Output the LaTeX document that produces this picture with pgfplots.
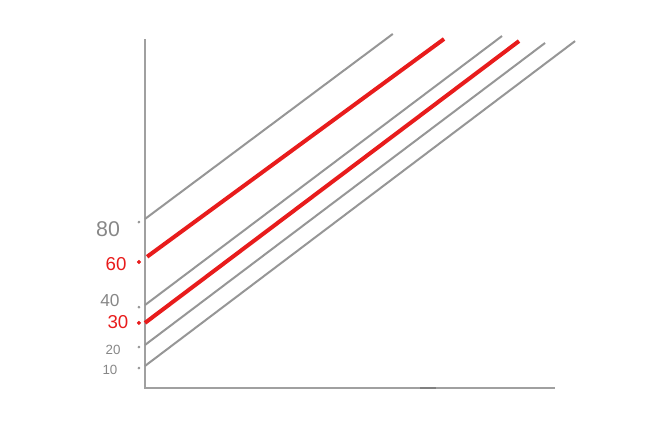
\documentclass[border=0pt]{standalone}
\usepackage{pgfplots}
\pgfplotsset{compat=1.18}
\usepackage{fontspec}
\setmainfont{Liberation Sans}
\definecolor{sketchgray}{RGB}{150,150,150}
\definecolor{axisgray}{RGB}{160,160,160}
\definecolor{labelgray}{RGB}{135,135,135}
\definecolor{sketchred}{RGB}{232,28,28}
\begin{document}
\begin{tikzpicture}
\path[use as bounding box] (-108.75pt,-27.75pt) rectangle (378pt,291pt);
\begin{axis}[
  at={(0,0)}, anchor=south west,
  scale only axis,
  width=330.75pt, height=267.75pt,
  xmin=0, xmax=210, ymin=0, ymax=170,
  axis lines=none,
  clip=false,
]
% axes
\addplot[axisgray, line width=1.6pt] coordinates {(0,166) (0,0) (195,0)};
\addplot[gray, line width=2pt] coordinates {(131,0) (138.5,0)};
% gray lines
\addplot[sketchgray, line width=1.5pt] coordinates {(0,80.5) (118,168.6)};
\addplot[sketchgray, line width=1.5pt] coordinates {(0,39.5) (170,167.6)};
\addplot[sketchgray, line width=1.5pt] coordinates {(0,20.5) (190.5,164.3)};
\addplot[sketchgray, line width=1.5pt] coordinates {(0,10.5) (204.8,165.2)};
% red lines
\addplot[sketchred, line width=3pt] coordinates {(1,62.5) (142.4,166.2)};
\addplot[sketchred, line width=3pt] coordinates {(0,31) (178.1,165.2)};
% tick dots
\addplot[only marks, mark=*, mark size=0.8pt, color=sketchgray] coordinates {(-2.9,79) (-2.9,38.5) (-2.9,19.5) (-2.9,9.5)};
\addplot[only marks, mark=*, mark size=1.3pt, color=sketchred] coordinates {(-2.9,60) (-2.9,31)};
% labels
\node[text=labelgray, font=\fontsize{16}{16}\selectfont] at (axis cs:-17.6,75.5) {80};
\node[text=sketchred, font=\fontsize{14}{14}\selectfont] at (axis cs:-13.8,59) {60};
\node[text=labelgray, font=\fontsize{13}{13}\selectfont] at (axis cs:-16.7,41.5) {40};
\node[text=sketchred, font=\fontsize{14}{14}\selectfont] at (axis cs:-12.9,31.6) {30};
\node[text=labelgray, font=\fontsize{10}{10}\selectfont] at (axis cs:-15.2,18.1) {20};
\node[text=labelgray, font=\fontsize{10}{10}\selectfont] at (axis cs:-16.7,8.6) {10};
\end{axis}
\end{tikzpicture}
\end{document}
